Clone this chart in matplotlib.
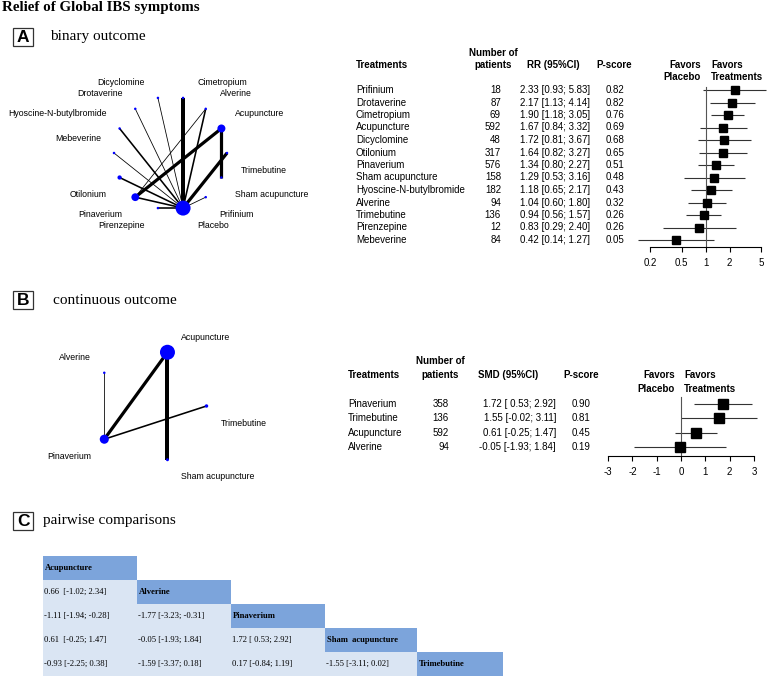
import matplotlib.pyplot as plt
import matplotlib.transforms as mtransforms
from matplotlib.patches import Rectangle
from matplotlib.ticker import NullLocator
import numpy as np

SERIF = "Liberation Serif"
SANS = "Liberation Sans"

# ---- panel A: binary outcome (RR) ----
treat_a = ["Prifinium", "Drotaverine", "Cimetropium", "Acupuncture", "Dicyclomine",
           "Otilonium", "Pinaverium", "Sham acupuncture", "Hyoscine-N-butylbromide",
           "Alverine", "Trimebutine", "Pirenzepine", "Mebeverine"]
n_a = [18, 87, 69, 592, 48, 317, 576, 158, 182, 94, 136, 12, 84]
rr_a = [2.33, 2.17, 1.90, 1.67, 1.72, 1.64, 1.34, 1.29, 1.18, 1.04, 0.94, 0.83, 0.42]
lo_a = [0.93, 1.13, 1.18, 0.84, 0.81, 0.82, 0.80, 0.53, 0.65, 0.60, 0.56, 0.29, 0.14]
hi_a = [5.83, 4.14, 3.05, 3.32, 3.67, 3.27, 2.27, 3.16, 2.17, 1.80, 1.57, 2.40, 1.27]
p_a = [0.82, 0.82, 0.76, 0.69, 0.68, 0.65, 0.51, 0.48, 0.43, 0.32, 0.26, 0.26, 0.05]

# network A (nodes in circle order, clockwise from top)
net_a_nodes = ["Cimetropium", "Alverine", "Acupuncture", "Trimebutine", "Sham acupuncture",
               "Prifinium", "Placebo", "Pirenzepine", "Pinaverium", "Otilonium",
               "Mebeverine", "Hyoscine-N-butylbromide", "Drotaverine", "Dicyclomine"]
placebo_n_a = 1110  # estimated from node size
net_a_edges = [("Placebo", "Cimetropium"), ("Placebo", "Dicyclomine"), ("Placebo", "Drotaverine"),
               ("Placebo", "Hyoscine-N-butylbromide"), ("Placebo", "Mebeverine"),
               ("Placebo", "Otilonium"), ("Placebo", "Pinaverium"), ("Placebo", "Pirenzepine"),
               ("Placebo", "Prifinium"), ("Placebo", "Trimebutine"), ("Placebo", "Alverine"),
               ("Pinaverium", "Alverine"), ("Pinaverium", "Acupuncture"),
               ("Acupuncture", "Sham acupuncture")]
net_a_studies = [5, 1, 1, 2, 1, 2, 2, 2, 1, 4, 2, 1, 4, 4]

# ---- panel B: continuous outcome (SMD) ----
treat_b = ["Pinaverium", "Trimebutine", "Acupuncture", "Alverine"]
n_b = [358, 136, 592, 94]
smd_b = [1.72, 1.55, 0.61, -0.05]
lo_b = [0.53, -0.02, -0.25, -1.93]
hi_b = [2.92, 3.11, 1.47, 1.84]
p_b = [0.90, 0.81, 0.45, 0.19]

net_b_nodes = ["Acupuncture", "Trimebutine", "Sham acupuncture", "Pinaverium", "Alverine"]
sham_n_b = 118  # estimated from node size
net_b_edges = [("Alverine", "Pinaverium"), ("Pinaverium", "Acupuncture"),
               ("Acupuncture", "Sham acupuncture"), ("Pinaverium", "Trimebutine")]
net_b_studies = [1, 4, 5, 2]

# ---- panel C: pairwise comparisons ----
league_names = ["Acupuncture", "Alverine", "Pinaverium", "Sham  acupuncture", "Trimebutine"]
league_vals = [
    ["0.66  [-1.02; 2.34]"],
    ["-1.11 [-1.94; -0.28]", "-1.77 [-3.23; -0.31]"],
    ["0.61  [-0.25; 1.47]", "-0.05 [-1.93; 1.84]", "1.72 [ 0.53; 2.92]"],
    ["-0.93 [-2.25; 0.38]", "-1.59 [-3.37; 0.18]", "0.17 [-0.84; 1.19]", "-1.55 [-3.11; 0.02]"],
]

fig = plt.figure(figsize=(7.68, 6.77), dpi=100)
bg = fig.add_axes([0, 0, 1, 1])
bg.set_xlim(0, 768)
bg.set_ylim(677, 0)
bg.axis("off")


def px_axes(x0, y0, x1, y1):
    return fig.add_axes([x0 / 768, 1 - y1 / 677, (x1 - x0) / 768, (y1 - y0) / 677])


def panel_label(letter, y, text, x_text):
    bg.add_patch(Rectangle((13, y - 9), 20, 18, fill=False, lw=0.9, ec="#333333"))
    bg.text(23, y + 0.5, letter, fontsize=12.5, fontweight="bold", family=SANS,
            ha="center", va="center")
    bg.text(x_text, y, text, fontsize=11, family=SERIF, va="center")


def draw_network(box, center, nodes, patients, edges, studies, start, radius=56.5):
    ax = px_axes(*box)
    ax.set_xlim(box[0] - center[0], box[2] - center[0])
    ax.set_ylim(box[3] - center[1], box[1] - center[1])
    ax.axis("off")
    n = len(nodes)
    theta = np.deg2rad(start + 360 / n * np.arange(n))
    x = radius * np.sin(theta)
    y = -radius * np.cos(theta)
    pos = {name: (x[i], y[i]) for i, name in enumerate(nodes)}
    for (a, b), s in zip(edges, studies):
        ax.plot([pos[a][0], pos[b][0]], [pos[a][1], pos[b][1]], color="black",
                lw=0.8 * s * 0.72, solid_capstyle="butt", zorder=1)
    patients = np.array(patients, dtype=float)
    diam = np.maximum(15 * patients / patients.max(), 2.5) * 0.72
    ax.scatter(x, y, s=diam ** 2, color="blue", linewidths=0, zorder=2)
    for i, name in enumerate(nodes):
        s, c = np.sin(theta[i]), np.cos(theta[i])
        up = c > 1e-6 or (abs(c) < 1e-6 and s < 0)
        right = s > 0
        ax.text(x[i] + (14 if right else -13), y[i] + (-15 if up else 17), name,
                ha="left" if right else "right", va="center", fontsize=6.3, family=SANS)


# title and panel headers
bg.text(2, 7, "Relief of Global IBS symptoms", fontsize=10.8, fontweight="bold",
        family=SERIF, va="center")
panel_label("A", 36.5, "binary outcome", 50)
panel_label("B", 300, "continuous outcome", 53)
panel_label("C", 520.5, "pairwise comparisons", 43)

# networks
lookup_a = dict(zip(treat_a, n_a))
lookup_a["Placebo"] = placebo_n_a
draw_network((0, 60, 340, 250), (170.5, 153), net_a_nodes,
             [lookup_a[t] for t in net_a_nodes], net_a_edges, net_a_studies, 180 / 14)
lookup_b = dict(zip(treat_b, n_b))
lookup_b["Sham acupuncture"] = sham_n_b
draw_network((0, 320, 340, 490), (150, 406), net_b_nodes,
             [lookup_b[t] for t in net_b_nodes], net_b_edges, net_b_studies, 18)

fs = 7

# ---- forest A ----
axa = px_axes(630, 80, 768, 247.3)
ka = np.arange(len(treat_a))
axa.set_xscale("log")
axa.set_xlim(10 ** ((630 - 705.7) / 79.4), 10 ** ((768 - 705.7) / 79.4))
axa.set_ylim((247.3 - 90) / 12.5, (80 - 90) / 12.5)
axa.hlines(ka, lo_a, hi_a, color="#333333", lw=0.8)
axa.plot([1, 1], [-0.24, (247.3 - 90) / 12.5], color="#555555", lw=0.8)
axa.plot(rr_a, ka, "s", color="black", ms=5.8)
for sp in ["top", "right", "left"]:
    axa.spines[sp].set_visible(False)
axa.spines["bottom"].set_bounds(0.2, 5)
axa.set_xticks([0.2, 0.5, 1, 2, 5])
axa.set_xticklabels(["0.2", "0.5", "1", "2", "5"], family=SANS)
axa.xaxis.set_minor_locator(NullLocator())
axa.set_yticks([])
axa.tick_params(axis="x", length=3.6, width=0.8, labelsize=fs, pad=4)
axa.patch.set_visible(False)

tra = mtransforms.blended_transform_factory(bg.transData, axa.transData)
for k in ka:
    bg.text(356, k, treat_a[k], transform=tra, fontsize=fs, family=SANS, va="center")
    bg.text(501, k, str(n_a[k]), transform=tra, fontsize=fs, family=SANS, va="center", ha="right")
    bg.text(520, k, f"{rr_a[k]:.2f} [{lo_a[k]:.2f}; {hi_a[k]:.2f}]", transform=tra,
            fontsize=fs, family=SANS, va="center")
    bg.text(615, k, f"{p_a[k]:.2f}", transform=tra, fontsize=fs, family=SANS,
            va="center", ha="center")

hdr = dict(fontsize=fs, family=SANS, fontweight="bold", va="center")
bg.text(356, 65, "Treatments", **hdr)
bg.text(493, 53, "Number of", ha="center", **hdr)
bg.text(493, 65, "patients", ha="center", **hdr)
bg.text(553, 65, "RR (95%CI)", ha="center", **hdr)
bg.text(614, 65, "P-score", ha="center", **hdr)
bg.text(701, 65, "Favors", ha="right", **hdr)
bg.text(701, 77, "Placebo", ha="right", **hdr)
bg.text(711, 65, "Favors", ha="left", **hdr)
bg.text(711, 77, "Treatments", ha="left", **hdr)

# ---- forest B ----
axb = px_axes(600, 390, 768, 456)
kb = np.arange(len(treat_b))
axb.set_xlim((600 - 681) / 24.3, (768 - 681) / 24.3)
axb.set_ylim((456 - 404) / 14.4, (390 - 404) / 14.4)
axb.hlines(kb, lo_b, hi_b, color="#333333", lw=0.8)
axb.plot([0, 0], [-0.49, (456 - 404) / 14.4], color="#555555", lw=0.8)
axb.plot(smd_b, kb, "s", color="black", ms=6.5)
for sp in ["top", "right", "left"]:
    axb.spines[sp].set_visible(False)
axb.spines["bottom"].set_bounds(-3, 3)
axb.set_xticks(range(-3, 4))
axb.set_xticklabels([str(v) for v in range(-3, 4)], family=SANS)
axb.set_yticks([])
axb.tick_params(axis="x", length=3.6, width=0.8, labelsize=fs, pad=4)
axb.patch.set_visible(False)

trb = mtransforms.blended_transform_factory(bg.transData, axb.transData)
for k in kb:
    bg.text(348, k, treat_b[k], transform=trb, fontsize=fs, family=SANS, va="center")
    bg.text(449, k, str(n_b[k]), transform=trb, fontsize=fs, family=SANS, va="center", ha="right")
    bg.text(556, k, f"{smd_b[k]:.2f} [{lo_b[k]:5.2f}; {hi_b[k]:.2f}]", transform=trb,
            fontsize=fs, family=SANS, va="center", ha="right")
    bg.text(581, k, f"{p_b[k]:.2f}", transform=trb, fontsize=fs, family=SANS,
            va="center", ha="center")

bg.text(348, 375, "Treatments", **hdr)
bg.text(440, 361, "Number of", ha="center", **hdr)
bg.text(440, 375, "patients", ha="center", **hdr)
bg.text(508, 375, "SMD (95%CI)", ha="center", **hdr)
bg.text(581, 375, "P-score", ha="center", **hdr)
bg.text(675, 375, "Favors", ha="right", **hdr)
bg.text(675, 389, "Placebo", ha="right", **hdr)
bg.text(684, 375, "Favors", ha="left", **hdr)
bg.text(684, 389, "Treatments", ha="left", **hdr)

# ---- league table C ----
col_x = [43, 137, 231, 325, 417, 503]
row_y = [556, 580, 603.5, 628, 652, 676]
head_col = "#7CA4DB"
cell_col = "#DAE5F3"
for i, name in enumerate(league_names):
    y0, y1 = row_y[i], row_y[i + 1]
    bg.add_patch(Rectangle((col_x[i], y0), col_x[i + 1] - col_x[i], y1 - y0,
                           fc=head_col, ec="none"))
    bg.text(col_x[i] + 2, (y0 + y1) / 2, name, fontsize=6.2, family=SERIF,
            fontweight="bold", va="center")
    if i > 0:
        for j, val in enumerate(league_vals[i - 1]):
            bg.add_patch(Rectangle((col_x[j], y0), col_x[j + 1] - col_x[j], y1 - y0,
                                   fc=cell_col, ec="none"))
            bg.text(col_x[j] + 1, (y0 + y1) / 2, val, fontsize=6.2, family=SERIF,
                    va="center")

fig.savefig("out.png", dpi=100)
